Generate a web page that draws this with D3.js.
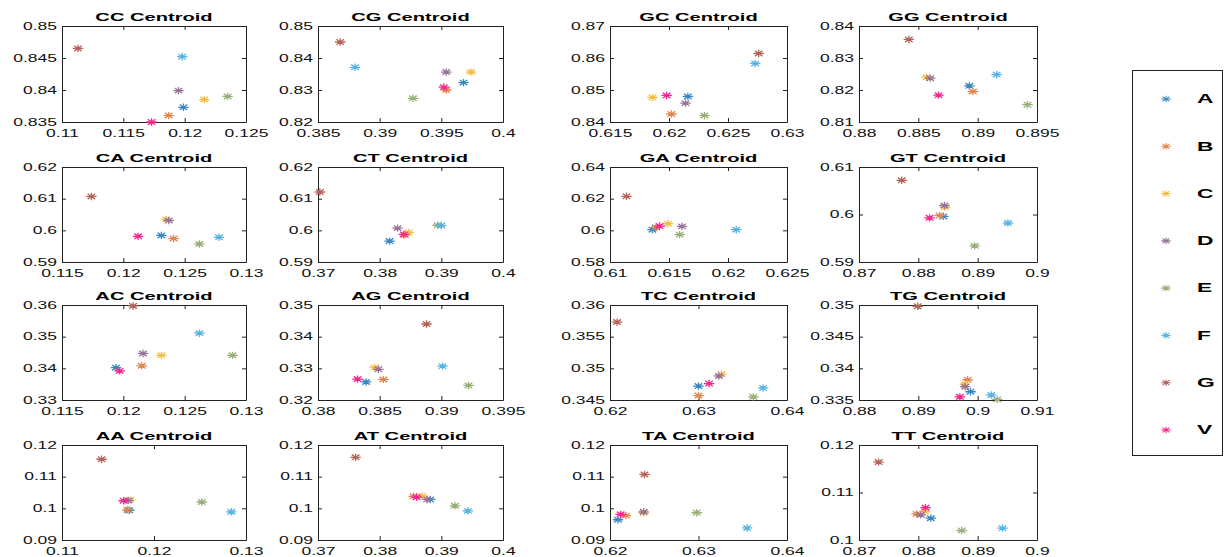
<!DOCTYPE html>
<html>
<head>
<meta charset="utf-8">
<script src="https://cdn.jsdelivr.net/npm/d3@7"></script>
<style>
  body { margin: 0; background: #fff; }
  svg text { font-family: "Liberation Sans", Arial, sans-serif; }
</style>
</head>
<body>
<div id="chart"></div>
<script>
// series (in plot order) and their colours
var series = ["A", "B", "C", "D", "E", "F", "G", "V"];
var colors = ["#3787c2", "#e3874f", "#f5bd45", "#987297", "#96b078", "#55b3e6", "#b2645a", "#f7258f"];

var titles = ["CC", "CG", "GC", "GG", "CA", "CT", "GA", "GT", "AC", "AG", "TC", "TG", "AA", "AT", "TA", "TT"];

// centroid points, one [x, y] per series A..G, V
var ccPts = [[0.1199,0.8373],[0.1187,0.8360],[0.1216,0.8385],[0.1195,0.8399],[0.1235,0.8390],[0.1198,0.8452],[0.1113,0.8465],[0.1173,0.8350]];
var cgPts = [[0.3968,0.8323],[0.3954,0.8300],[0.3974,0.8356],[0.3954,0.8356],[0.3927,0.8274],[0.3880,0.8371],[0.3868,0.8450],[0.3952,0.8309]];
var gcPts = [[0.6216,0.8480],[0.6202,0.8425],[0.6186,0.8477],[0.6214,0.8459],[0.6230,0.8420],[0.6273,0.8583],[0.6276,0.8614],[0.6198,0.8483]];
var ggPts = [[0.8893,0.8213],[0.8896,0.8195],[0.8857,0.8240],[0.8860,0.8237],[0.8942,0.8154],[0.8916,0.8248],[0.8842,0.8358],[0.8867,0.8184]];
var caPts = [[0.1231,0.5984],[0.1241,0.5974],[0.1235,0.6034],[0.1237,0.6031],[0.1262,0.5957],[0.1278,0.5978],[0.1174,0.6107],[0.1212,0.5981]];
var ctPts = [[0.3816,0.5966],[0.3841,0.5986],[0.3847,0.5993],[0.3829,0.6007],[0.3894,0.6016],[0.3900,0.6015],[0.3703,0.6121],[0.3839,0.5987]];
var gaPts = [[0.6136,0.6004],[0.6139,0.6019],[0.6149,0.6042],[0.6161,0.6025],[0.6159,0.5973],[0.6207,0.6004],[0.6114,0.6215],[0.6142,0.6027]];
var gtPts = [[0.8842,0.5996],[0.8836,0.5998],[0.8845,0.6015],[0.8844,0.6019],[0.8895,0.5934],[0.8951,0.5982],[0.8772,0.6072],[0.8819,0.5993]];
var acPts = [[0.1194,0.3402],[0.1215,0.3408],[0.1231,0.3441],[0.1216,0.3447],[0.1289,0.3441],[0.1262,0.3511],[0.1208,0.3597],[0.1197,0.3392]];
var agPts = [[0.3839,0.3257],[0.3853,0.3265],[0.3846,0.3303],[0.3849,0.3297],[0.3922,0.3246],[0.3901,0.3307],[0.3888,0.3440],[0.3832,0.3266]];
var tcPts = [[0.6300,0.3472],[0.6300,0.3457],[0.6326,0.3491],[0.6323,0.3488],[0.6362,0.3455],[0.6373,0.3469],[0.6208,0.3573],[0.6312,0.3476]];
var tgPts = [[0.8988,0.3363],[0.8983,0.3382],[0.8978,0.3375],[0.8979,0.3371],[0.9033,0.3351],[0.9023,0.3358],[0.8899,0.3498],[0.8970,0.3355]];
var aaPts = [[0.1173,0.0994],[0.1171,0.0995],[0.1174,0.1026],[0.1172,0.1025],[0.1252,0.1020],[0.1284,0.0989],[0.1143,0.1155],[0.1167,0.1024]];
var atPts = [[0.3882,0.1028],[0.3855,0.1038],[0.3869,0.1039],[0.3877,0.1028],[0.3922,0.1008],[0.3943,0.0992],[0.3761,0.1161],[0.3860,0.1035]];
var taPts = [[0.6209,0.0964],[0.6218,0.0977],[0.6238,0.0986],[0.6238,0.0989],[0.6298,0.0986],[0.6355,0.0938],[0.6239,0.1107],[0.6212,0.0981]];
var ttPts = [[0.8821,0.1046],[0.8797,0.1055],[0.8811,0.1060],[0.8804,0.1053],[0.8873,0.1020],[0.8942,0.1025],[0.8733,0.1164],[0.8812,0.1068]];

var points = [ccPts, cgPts, gcPts, ggPts, caPts, ctPts, gaPts, gtPts, acPts, agPts, tcPts, tgPts, aaPts, atPts, taPts, ttPts];

// tick labels (first and last are the axis limits)
var xTicks = [
  [0.11,0.115,0.12,0.125], [0.385,0.39,0.395,0.4], [0.615,0.62,0.625,0.63], [0.88,0.885,0.89,0.895],
  [0.115,0.12,0.125,0.13], [0.37,0.38,0.39,0.4], [0.61,0.615,0.62,0.625], [0.87,0.88,0.89,0.9],
  [0.115,0.12,0.125,0.13], [0.38,0.385,0.39,0.395], [0.62,0.63,0.64], [0.88,0.89,0.9,0.91],
  [0.11,0.12,0.13], [0.37,0.38,0.39,0.4], [0.62,0.63,0.64], [0.87,0.88,0.89,0.9]
];
var yTicks = [
  [0.835,0.84,0.845,0.85], [0.82,0.83,0.84,0.85], [0.84,0.85,0.86,0.87], [0.81,0.82,0.83,0.84],
  [0.59,0.6,0.61,0.62], [0.59,0.6,0.61,0.62], [0.58,0.6,0.62,0.64], [0.59,0.6,0.61],
  [0.33,0.34,0.35,0.36], [0.32,0.33,0.34,0.35], [0.345,0.35,0.355,0.36], [0.335,0.34,0.345,0.35],
  [0.09,0.1,0.11,0.12], [0.09,0.1,0.11,0.12], [0.09,0.1,0.11,0.12], [0.1,0.11,0.12]
];

var W = 1230, H = 557;
var colLeft = [62, 318, 610, 859], colRight = [246, 503, 787, 1037];
var rowTop = [26, 167, 305, 445], rowBottom = [122, 262, 400, 540];
var sx = 1.75; // text in the reference is stretched horizontally

var svg = d3.select("#chart").append("svg")
    .attr("width", W)
    .attr("height", H);

var fmt = function(d) { return String(+d.toFixed(6)); };

// asterisk marker, a bit wider than tall like the reference
var star = "M-5.2,0L5.2,0M0,-3.7L0,3.7M-3.8,-2.7L3.8,2.7M-3.8,2.7L3.8,-2.7";

titles.forEach(function(t, i) {
  var r = Math.floor(i / 4), c = i % 4;
  var x = d3.scaleLinear().domain(d3.extent(xTicks[i])).range([colLeft[c], colRight[c]]);
  var y = d3.scaleLinear().domain(d3.extent(yTicks[i])).range([rowBottom[r], rowTop[r]]);

  var g = svg.append("g");

  // bottom axis with labels
  var gb = g.append("g")
      .attr("transform", "translate(0," + rowBottom[r] + ")")
      .call(d3.axisBottom(x).tickValues(xTicks[i]).tickFormat(fmt).tickSizeInner(-4).tickSizeOuter(0).tickPadding(8));
  gb.selectAll("text")
      .attr("transform", "scale(" + sx + ",1)");

  // left axis with labels
  var gl = g.append("g")
      .attr("transform", "translate(" + colLeft[c] + ",0)")
      .call(d3.axisLeft(y).tickValues(yTicks[i]).tickFormat(fmt).tickSizeInner(-4).tickSizeOuter(0));
  gl.selectAll("text")
      .attr("x", 0)
      .attr("transform", "translate(-5,0) scale(" + sx + ",1)");

  // top and right: ticks only (box on)
  g.append("g")
      .attr("transform", "translate(0," + rowTop[r] + ")")
      .call(d3.axisTop(x).tickValues(xTicks[i]).tickFormat("").tickSizeInner(-4).tickSizeOuter(0));
  g.append("g")
      .attr("transform", "translate(" + colRight[c] + ",0)")
      .call(d3.axisRight(y).tickValues(yTicks[i]).tickFormat("").tickSizeInner(-4).tickSizeOuter(0));

  g.selectAll(".tick text")
      .attr("font-size", 10)
      .attr("font-family", "'Liberation Sans', Arial, sans-serif")
      .attr("fill", "#111");
  g.selectAll(".domain, .tick line").attr("stroke", "#222");

  // title
  g.append("text")
      .attr("transform", "translate(" + (colLeft[c] + colRight[c]) / 2 + "," + (rowTop[r] - 5) + ") scale(" + sx + ",1)")
      .attr("text-anchor", "middle")
      .attr("font-size", 11.5)
      .attr("font-weight", "bold")
      .text(t + " Centroid");

  // markers
  g.selectAll("path.pt")
      .data(points[i])
    .enter().append("path")
      .attr("class", "pt")
      .attr("d", star)
      .attr("transform", function(d) { return "translate(" + x(d[0]) + "," + y(d[1]) + ")"; })
      .attr("fill", "none")
      .attr("stroke", function(d, k) { return colors[k]; })
      .attr("stroke-width", 1.3);
});

// legend
var legY = d3.scalePoint().domain(series).range([99, 430]);
var legend = svg.append("g");
legend.append("rect")
    .attr("x", 1132.5)
    .attr("y", 70.5)
    .attr("width", 90)
    .attr("height", 385)
    .attr("fill", "#fff")
    .attr("stroke", "#222");

var item = legend.selectAll("g.item")
    .data(series)
  .enter().append("g")
    .attr("class", "item")
    .attr("transform", function(d) { return "translate(0," + legY(d) + ")"; });

item.append("path")
    .attr("d", star)
    .attr("transform", "translate(1166,0) scale(0.9)")
    .attr("fill", "none")
    .attr("stroke", function(d, k) { return colors[k]; })
    .attr("stroke-width", 1.2);

item.append("text")
    .attr("transform", "translate(1197,0) scale(1.9,1)")
    .attr("dy", "0.36em")
    .attr("font-size", 12)
    .attr("font-weight", "bold")
    .text(function(d) { return d; });
</script>
</body>
</html>
